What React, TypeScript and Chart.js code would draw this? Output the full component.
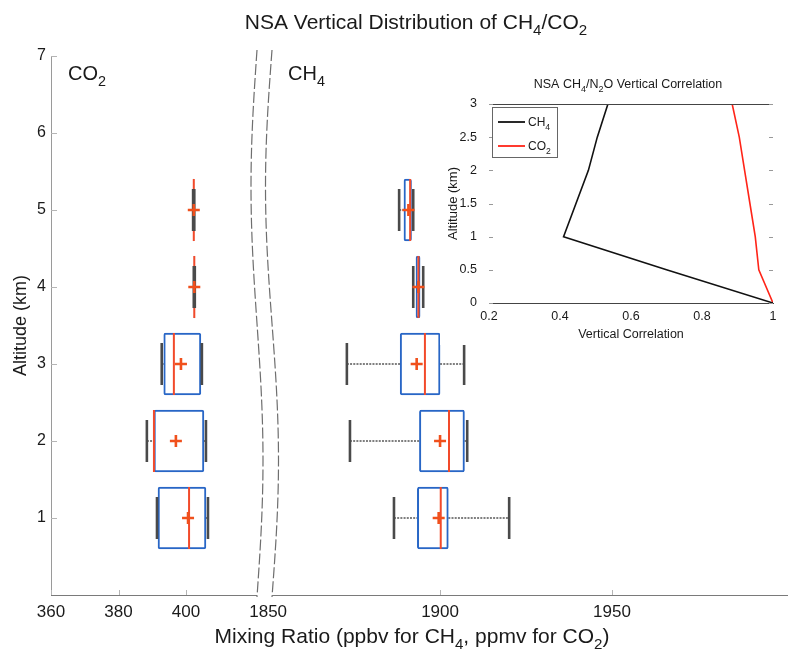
import React, { useEffect, useRef } from 'react';
import { Chart, registerables } from 'chart.js';

Chart.register(...registerables);

const FONT = '"Liberation Sans", Arial, Helvetica, sans-serif';

const mainTitle = 'NSA Vertical Distribution of CH4/CO2';
const xAxisLabel = 'Mixing Ratio (ppbv for CH4, ppmv for CO2)';
const yAxisLabel = 'Altitude (km)';
const co2PanelLabel = 'CO2';
const ch4PanelLabel = 'CH4';

const altitudes = [1, 2, 3, 4, 5];
const altitudeTicks = [1, 2, 3, 4, 5, 6, 7];
const altitudeRange = [0, 7];

const co2Ticks = [360, 380, 400];
const co2Range = [360, 423.1];
const co2WhiskerLow = [391.4, 388.4, 392.8, 402.3, 402.1];
const co2Q1 = [391.7, 390.5, 393.4, 402.35, 402.2];
const co2Median = [400.9, 390.5, 396.4, 402.45, 402.3];
const co2Q3 = [405.9, 405.3, 404.4, 402.5, 402.35];
const co2WhiskerHigh = [406.5, 405.9, 404.7, 402.6, 402.45];
const co2Mean = [400.6, 397.0, 398.5, 402.45, 402.3];

const ch4Ticks = [1850, 1900, 1950];
const ch4Range = [1848.8, 2000.9];
const ch4WhiskerLow = [1886.6, 1873.8, 1872.9, 1892.2, 1888.1];
const ch4Q1 = [1893.4, 1894.0, 1888.4, 1893.0, 1889.5];
const ch4Median = [1900.2, 1902.6, 1895.6, 1893.7, 1891.3];
const ch4Q3 = [1902.4, 1907.1, 1900.0, 1894.2, 1891.7];
const ch4WhiskerHigh = [1920.1, 1907.9, 1907.0, 1895.1, 1892.2];
const ch4Mean = [1899.6, 1900.0, 1893.2, 1893.7, 1890.8];

const insetTitle = 'NSA CH4/N2O Vertical Correlation';
const insetXLabel = 'Vertical Correlation';
const insetYLabel = 'Altitude (km)';
const corrAltitudes = [0, 0.5, 1, 1.5, 2, 2.5, 3];
const ch4Correlation = [1.0, 0.70, 0.41, 0.445, 0.48, 0.505, 0.535];
const co2Correlation = [1.0, 0.96, 0.95, 0.935, 0.92, 0.905, 0.885];
const corrXTicks = [0.2, 0.4, 0.6, 0.8, 1];
const corrYTicks = [0, 0.5, 1, 1.5, 2, 2.5, 3];
const seriesNames = ['CH4', 'CO2'];

const BOX_BLUE = '#2866c6';
const MEDIAN_RED = '#f24a2a';
const MEAN_RED = '#f0501c';
const CAP_GRAY = '#4a4a4a';
const WHISKER_GRAY = '#555555';
const TEXT = '#1a1a1a';

type Seg = { t: string; sub: boolean };
function chemSegments(text: string): Seg[] {
  const segs: Seg[] = [];
  for (let i = 0; i < text.length; i++) {
    const ch = text[i];
    const sub = /[0-9]/.test(ch) && i > 0 && /[A-Z]/.test(text[i - 1]);
    const last = segs[segs.length - 1];
    if (last && last.sub === sub) last.t += ch;
    else segs.push({ t: ch, sub });
  }
  return segs;
}

function drawChem(ctx: CanvasRenderingContext2D, text: string, x: number, y: number, size: number, align: 'left' | 'center', color = TEXT) {
  const segs = chemSegments(text);
  const subSize = size * 0.72;
  let w = 0;
  for (const s of segs) {
    ctx.font = `${s.sub ? subSize : size}px ${FONT}`;
    w += ctx.measureText(s.t).width;
  }
  let cx = align === 'center' ? x - w / 2 : x;
  ctx.save();
  ctx.fillStyle = color;
  ctx.textAlign = 'left';
  ctx.textBaseline = 'alphabetic';
  for (const s of segs) {
    ctx.font = `${s.sub ? subSize : size}px ${FONT}`;
    ctx.fillText(s.t, cx, s.sub ? y + size * 0.3 : y);
    cx += ctx.measureText(s.t).width;
  }
  ctx.restore();
}

function boxDatasets(axisId: string, low: number[], q1: number[], med: number[], q3: number[], high: number[], mean: number[]) {
  const whiskerPts: any[] = [];
  altitudes.forEach((a, i) => {
    whiskerPts.push({ x: low[i], y: a }, { x: q1[i], y: a }, { x: null, y: null });
    whiskerPts.push({ x: q3[i], y: a }, { x: high[i], y: a }, { x: null, y: null });
  });
  const capPts: any[] = [];
  altitudes.forEach((a, i) => {
    capPts.push({ x: low[i], y: a }, { x: high[i], y: a });
  });
  return [
    {
      type: 'line', xAxisID: axisId, yAxisID: 'y', data: whiskerPts,
      borderColor: WHISKER_GRAY, borderWidth: 1.6, borderDash: [2, 1.2],
      pointRadius: 0, spanGaps: false, fill: false, order: 5,
    },
    {
      type: 'bar', indexAxis: 'y', xAxisID: axisId, yAxisID: 'y', grouped: false,
      data: altitudes.map((a, i) => ({ y: a, x: [q1[i], q3[i]] })),
      backgroundColor: '#ffffff', borderColor: BOX_BLUE, borderWidth: 2,
      borderSkipped: false, borderRadius: 2, barThickness: 62, order: 4,
    },
    {
      type: 'scatter', xAxisID: axisId, yAxisID: 'y',
      data: altitudes.map((a, i) => ({ x: med[i], y: a })),
      pointStyle: 'line', pointRotation: 90, pointRadius: 31,
      pointBorderColor: MEDIAN_RED, pointBorderWidth: 2, pointBackgroundColor: MEDIAN_RED, order: 3,
    },
    {
      type: 'scatter', xAxisID: axisId, yAxisID: 'y', data: capPts,
      pointStyle: 'line', pointRotation: 90, pointRadius: 21,
      pointBorderColor: CAP_GRAY, pointBorderWidth: 2.6, pointBackgroundColor: CAP_GRAY, order: 2,
    },
    {
      type: 'scatter', xAxisID: axisId, yAxisID: 'y',
      data: altitudes.map((a, i) => ({ x: mean[i], y: a })),
      pointStyle: 'cross', pointRadius: 6,
      pointBorderColor: MEAN_RED, pointBorderWidth: 2.6, pointBackgroundColor: MEAN_RED, order: 1,
    },
  ];
}

const mainDecor = {
  id: 'mainDecor',
  // share the full plot width between the two stacked x axes (broken axis)
  afterLayout(chart: any) {
    const a = chart.chartArea;
    a.right = chart.width - 2;
    a.width = a.right - a.left;
    const co2 = chart.scales.xCO2;
    const ch4 = chart.scales.xCH4;
    const w1 = co2.options.stackWeight;
    const w2 = ch4.options.stackWeight;
    const split = a.left + (a.width * w1) / (w1 + w2);
    co2.left = a.left; co2.right = split; co2.width = split - a.left;
    ch4.left = split; ch4.right = a.right; ch4.width = a.right - split;
    co2.configure();
    ch4.configure();
  },
  beforeDraw(chart: any) {
    const ctx = chart.ctx;
    ctx.save();
    ctx.fillStyle = '#ffffff';
    ctx.fillRect(0, 0, chart.width, chart.height);
    ctx.restore();
  },
  afterDraw(chart: any) {
    const ctx: CanvasRenderingContext2D = chart.ctx;
    const area = chart.chartArea;
    const y = chart.scales.y;
    const xCO2 = chart.scales.xCO2;
    const xCH4 = chart.scales.xCH4;
    ctx.save();
    ctx.strokeStyle = '#b5b5b5';
    ctx.lineWidth = 1;
    altitudeTicks.forEach((v) => {
      const py = Math.round(y.getPixelForValue(v)) + 0.5;
      ctx.beginPath();
      ctx.moveTo(area.left, py);
      ctx.lineTo(area.left + 6, py);
      ctx.stroke();
    });
    const xs = [
      ...co2Ticks.map((v) => xCO2.getPixelForValue(v)),
      ...ch4Ticks.map((v) => xCH4.getPixelForValue(v)),
    ];
    xs.forEach((px) => {
      const p = Math.round(px) + 0.5;
      ctx.beginPath();
      ctx.moveTo(p, area.bottom);
      ctx.lineTo(p, area.bottom - 5);
      ctx.stroke();
    });
    const b = xCO2.right;
    const y0 = area.top - 6;
    const y1 = area.bottom + 2;
    const n = 60;
    const left = (t: number) => b - 7 - 6 * Math.sin(2 * Math.PI * t);
    const right = (t: number) => b + 8 - 6.5 * Math.sin(2 * Math.PI * t);
    ctx.beginPath();
    for (let i = 0; i <= n; i++) {
      const t = i / n;
      const py = y0 + (y1 - y0) * t;
      if (i === 0) ctx.moveTo(left(t), py);
      else ctx.lineTo(left(t), py);
    }
    for (let i = n; i >= 0; i--) {
      const t = i / n;
      ctx.lineTo(right(t), y0 + (y1 - y0) * t);
    }
    ctx.closePath();
    ctx.fillStyle = '#ffffff';
    ctx.fill();
    ctx.strokeStyle = '#6e6e6e';
    ctx.lineWidth = 1.2;
    ctx.setLineDash([11, 3]);
    [left, right].forEach((f) => {
      ctx.beginPath();
      for (let i = 0; i <= n; i++) {
        const t = i / n;
        const py = y0 + (y1 - y0) * t;
        if (i === 0) ctx.moveTo(f(t), py);
        else ctx.lineTo(f(t), py);
      }
      ctx.stroke();
    });
    ctx.setLineDash([]);
    ctx.restore();
    drawChem(ctx, co2PanelLabel, area.left + 17, area.top + 24, 20, 'left');
    drawChem(ctx, ch4PanelLabel, xCH4.left + 24, area.top + 24, 20, 'left');
    drawChem(ctx, mainTitle, 416, 29, 21, 'center');
    drawChem(ctx, xAxisLabel, 412, 643, 21, 'center');
  },
};

const insetDecor = {
  id: 'insetDecor',
  beforeDraw(chart: any) {
    const ctx = chart.ctx;
    ctx.save();
    ctx.fillStyle = '#ffffff';
    ctx.fillRect(0, 0, chart.width, chart.height);
    ctx.restore();
  },
  afterDraw(chart: any) {
    const ctx: CanvasRenderingContext2D = chart.ctx;
    const area = chart.chartArea;
    const y = chart.scales.y;
    ctx.save();
    ctx.strokeStyle = '#444';
    ctx.lineWidth = 1;
    ctx.beginPath();
    ctx.moveTo(area.left, Math.round(area.top) + 0.5);
    ctx.lineTo(area.right, Math.round(area.top) + 0.5);
    ctx.stroke();
    ctx.strokeStyle = '#999';
    corrYTicks.forEach((v) => {
      const py = Math.round(y.getPixelForValue(v)) + 0.5;
      ctx.beginPath();
      ctx.moveTo(area.left, py);
      ctx.lineTo(area.left + 4, py);
      ctx.moveTo(area.right, py);
      ctx.lineTo(area.right - 4, py);
      ctx.stroke();
    });
    const lx = area.left + 3;
    const ly = area.top + 3;
    ctx.fillStyle = '#fff';
    ctx.fillRect(lx, ly, 65, 50);
    ctx.strokeStyle = '#666';
    ctx.lineWidth = 1;
    ctx.strokeRect(lx + 0.5, ly + 0.5, 65, 50);
    chart.data.datasets.forEach((ds: any, i: number) => {
      const ry = ly + 15 + i * 24;
      ctx.strokeStyle = ds.borderColor;
      ctx.lineWidth = 1.8;
      ctx.beginPath();
      ctx.moveTo(lx + 6, ry);
      ctx.lineTo(lx + 33, ry);
      ctx.stroke();
      drawChem(ctx, ds.label, lx + 36, ry + 4, 12, 'left');
    });
    ctx.restore();
    drawChem(ctx, insetTitle, (area.left + area.right) / 2 - 3, 18, 12.5, 'center');
  },
};

export default function App() {
  const mainRef = useRef<HTMLCanvasElement>(null);
  const insetRef = useRef<HTMLCanvasElement>(null);

  useEffect(() => {
    const main = new Chart(mainRef.current as HTMLCanvasElement, {
      type: 'scatter',
      data: {
        datasets: [
          ...boxDatasets('xCO2', co2WhiskerLow, co2Q1, co2Median, co2Q3, co2WhiskerHigh, co2Mean),
          ...boxDatasets('xCH4', ch4WhiskerLow, ch4Q1, ch4Median, ch4Q3, ch4WhiskerHigh, ch4Mean),
        ] as any,
      },
      options: {
        animation: false,
        responsive: false,
        devicePixelRatio: 1,
        events: [],
        layout: { padding: { top: 56, right: 2, bottom: 0, left: 0 } },
        plugins: { legend: { display: false }, tooltip: { enabled: false }, title: { display: false } },
        scales: {
          y: {
            type: 'linear', position: 'left', min: altitudeRange[0], max: altitudeRange[1], offset: false,
            afterBuildTicks: (s: any) => { s.ticks = altitudeTicks.map((v) => ({ value: v })); },
            afterFit: (s: any) => { s.width = 51; },
            grid: { display: false, drawTicks: false, offset: false },
            border: { display: true, color: '#9a9a9a', width: 1 },
            ticks: { font: { family: FONT, size: 16 }, color: TEXT, padding: 5, callback: (v: any) => String(v) },
            title: { display: true, text: yAxisLabel, font: { family: FONT, size: 18 }, color: TEXT, padding: { top: 10, bottom: 0 } },
          },
          xCO2: {
            type: 'linear', axis: 'x', position: 'bottom', stack: 'mix', stackWeight: 213,
            min: co2Range[0], max: co2Range[1], offset: false,
            afterBuildTicks: (s: any) => { s.ticks = co2Ticks.map((v) => ({ value: v })); },
            afterFit: (s: any) => { s.height = 62; },
            grid: { display: false, drawTicks: false },
            border: { display: true, color: '#7a7a7a', width: 1 },
            ticks: { font: { family: FONT, size: 17 }, color: TEXT, padding: 7, maxRotation: 0, callback: (v: any) => String(v) },
          },
          xCH4: {
            type: 'linear', axis: 'x', position: 'bottom', stack: 'mix', stackWeight: 523,
            min: ch4Range[0], max: ch4Range[1], offset: false,
            afterBuildTicks: (s: any) => { s.ticks = ch4Ticks.map((v) => ({ value: v })); },
            afterFit: (s: any) => { s.height = 62; },
            grid: { display: false, drawTicks: false },
            border: { display: true, color: '#7a7a7a', width: 1 },
            ticks: { font: { family: FONT, size: 17 }, color: TEXT, padding: 7, maxRotation: 0, callback: (v: any) => String(v) },
          },
        } as any,
      },
      plugins: [mainDecor],
    });

    const inset = new Chart(insetRef.current as HTMLCanvasElement, {
      type: 'line',
      data: {
        datasets: [
          {
            label: seriesNames[0],
            data: corrAltitudes.map((a, i) => ({ x: ch4Correlation[i], y: a })),
            borderColor: '#111111', borderWidth: 1.6, pointRadius: 0, fill: false,
          },
          {
            label: seriesNames[1],
            data: corrAltitudes.map((a, i) => ({ x: co2Correlation[i], y: a })),
            borderColor: '#ff2418', borderWidth: 1.6, pointRadius: 0, fill: false,
          },
        ],
      },
      options: {
        animation: false,
        responsive: false,
        devicePixelRatio: 1,
        events: [],
        layout: { padding: { top: 34, right: 16, left: 0, bottom: 0 } },
        plugins: { legend: { display: false }, tooltip: { enabled: false } },
        scales: {
          x: {
            type: 'linear', min: corrXTicks[0], max: corrXTicks[corrXTicks.length - 1],
            afterBuildTicks: (s: any) => { s.ticks = corrXTicks.map((v) => ({ value: v })); },
            afterFit: (s: any) => { s.height = 42; },
            grid: { display: false, drawTicks: false },
            border: { display: true, color: '#444', width: 1 },
            ticks: { font: { family: FONT, size: 12.5 }, color: TEXT, padding: 6, maxRotation: 0, callback: (v: any) => String(v) },
            title: { display: true, text: insetXLabel, font: { family: FONT, size: 12.5 }, color: TEXT, padding: { top: 0, bottom: 3 } },
          },
          y: {
            type: 'linear', min: corrYTicks[0], max: corrYTicks[corrYTicks.length - 1],
            afterBuildTicks: (s: any) => { s.ticks = corrYTicks.map((v) => ({ value: v })); },
            afterFit: (s: any) => { s.width = 49; },
            grid: { display: false, drawTicks: false },
            border: { display: false },
            ticks: { font: { family: FONT, size: 12.5 }, color: TEXT, padding: 12, callback: (v: any) => String(v) },
            title: { display: true, text: insetYLabel, font: { family: FONT, size: 13 }, color: TEXT, padding: { top: 6, bottom: 0 } },
          },
        } as any,
      },
      plugins: [insetDecor],
    });

    return () => {
      main.destroy();
      inset.destroy();
    };
  }, []);

  return (
    <div style={{ position: 'fixed', left: 0, top: 0, width: 789, height: 657, background: '#fff' }}>
      <canvas ref={mainRef} width={789} height={657} style={{ position: 'absolute', left: 0, top: 0, width: 789, height: 657, display: 'block' }} />
      <canvas ref={insetRef} width={349} height={275} style={{ position: 'absolute', left: 440, top: 70, width: 349, height: 275, display: 'block' }} />
    </div>
  );
}
